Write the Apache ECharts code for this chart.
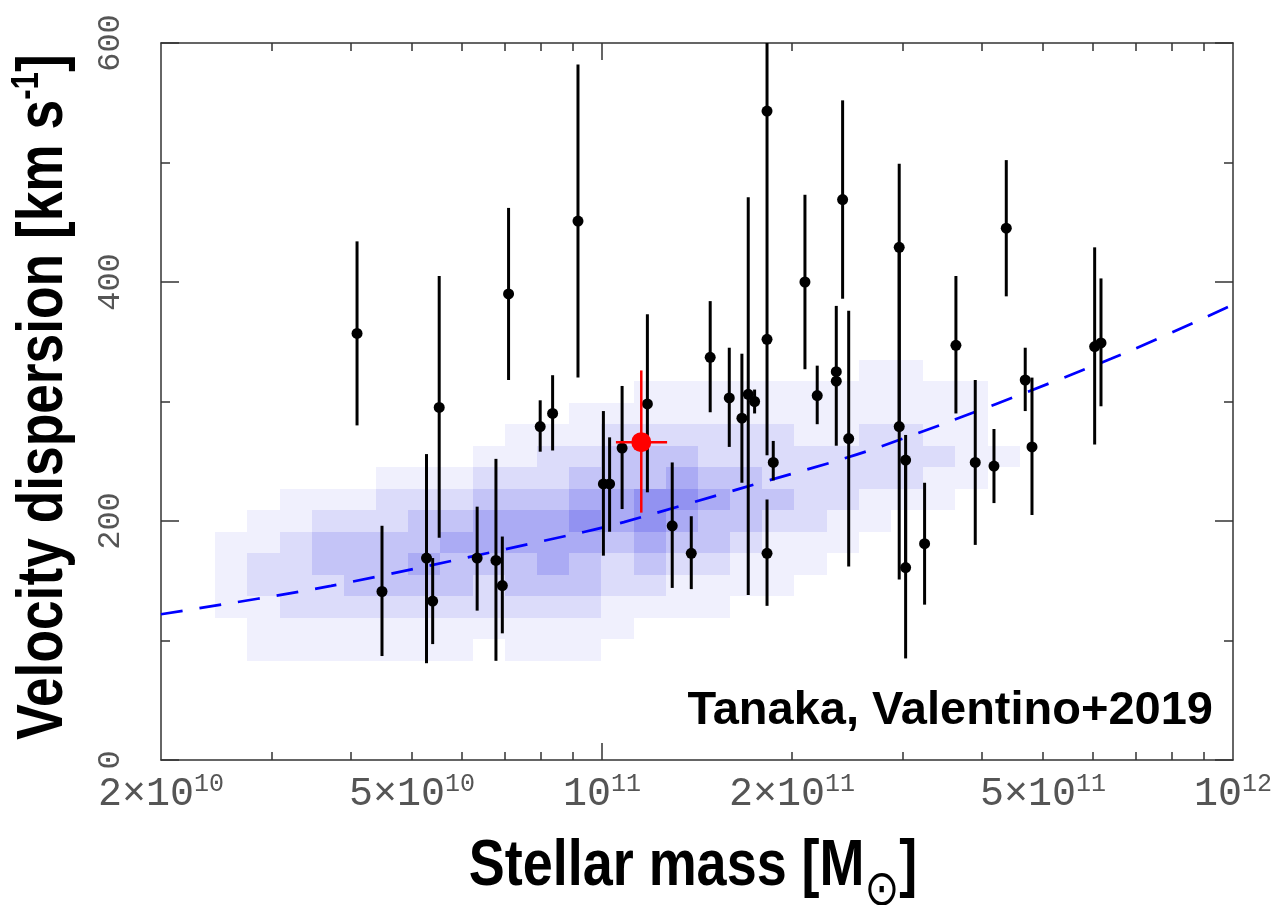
<!DOCTYPE html>
<html><head><meta charset="utf-8">
<script src="https://cdn.jsdelivr.net/npm/echarts@6/dist/echarts.min.js"></script>
<style>html,body{margin:0;padding:0;background:#fff}#chart{width:1285px;height:905px}</style>
</head><body><div id="chart"></div>
<script>
// ---------------- data ----------------
const massBlack = [4.09e10,4.48e10,5.27e10,5.39e10,5.52e10,6.34e10,6.79e10,6.95e10,7.11e10,7.98e10,
  8.35e10,9.16e10,1.005e11,1.028e11,1.076e11,1.180e11,1.292e11,1.385e11,1.484e11,1.591e11,
  1.666e11,1.705e11,1.745e11,1.826e11,1.826e11,1.826e11,1.868e11,2.097e11,2.193e11,2.351e11,
  2.351e11,2.406e11,2.460e11,2.958e11,2.958e11,3.028e11,3.028e11,3.245e11,3.638e11,3.904e11,
  4.180e11,4.372e11,4.685e11,4.802e11,6.036e11,6.177e11];
const sigmaBlack = [357,141,169,133,295,169,167,146,390,279,
  290,451,231,231,261,298,196,173,337,303,
  286,306,300,543,352,173,249,400,305,325,
  317,469,269,429,279,251,161,181,347,249,
  246,445,318,262,346,349];
const sigmaLow = [280,87,81,97,186,125,83,106,318,258,
  259,320,171,191,210,224,144,143,291,262,
  232,138,290,400,255,129,234,327,281,317,
  263,386,162,279,151,161,85,130,290,180,
  215,388,292,205,264,296];
const sigmaHigh = [434,196,256,169,405,212,252,187,462,301,
  322,582,292,270,313,373,249,204,384,345,
  340,471,310,600,400,218,267,473,330,380,
  325,552,376,499,429,272,251,232,405,318,
  277,502,345,320,429,403];

const massRed = [1.154e11];
const sigmaRed = [266];
const sigmaRedLow = [207];
const sigmaRedHigh = [326];
const massRedLow = [1.052e11];
const massRedHigh = [1.268e11];

const fitMass  = [2e10, 3.72e10, 9.36e10, 1.083e11, 1.66e11, 2.748e11, 6.406e11, 1e12];
const fitSigma = [122, 145.7, 190.8, 199.1, 227.3, 261.8, 335.7, 381];

const histMassEdges = [2.438e10,2.742e10,3.083e10,3.467e10,3.899e10,4.385e10,4.932e10,5.546e10,
  6.237e10,7.015e10,7.889e10,8.872e10,9.977e10,1.122e11,1.262e11,1.419e11,1.596e11,1.795e11,
  2.018e11,2.270e11,2.553e11,2.871e11,3.228e11,3.631e11,4.083e11,4.592e11];
const histSigmaEdges = [83,101,119,137,155,173,191,209,227,245,263,281,299,317,335,353];
const histStartRow = [2,0,0,0,0,0,0,0,1,0,0,0,1,2,2,2,3,3,4,5,6,7,7,8,9];
const histLevels = [
  [1,1,1,1],
  [1,1,1,2,2,1,1],
  [1,1,2,2,2,2,1,1],
  [1,1,2,2,3,3,2,1],
  [1,1,2,3,3,3,2,1],
  [1,1,2,3,3,3,2,2,1],
  [1,1,2,3,4,3,3,2,1],
  [1,1,2,3,3,4,3,2,1],
  [1,2,2,3,4,4,3,2,1],
  [1,1,2,3,3,4,4,3,2,1,1],
  [1,1,2,3,4,4,4,3,2,2,1],
  [1,1,2,3,3,4,5,4,3,2,1,1],
  [1,1,2,2,3,4,4,3,3,2,1],
  [1,2,3,4,5,5,3,3,2,1,1],
  [1,1,2,3,4,5,4,3,2,1,1],
  [1,1,2,3,3,4,3,2,2,1,1],
  [1,1,2,3,3,3,2,2,1,1],
  [1,1,1,2,3,2,2,2,1,1],
  [1,1,2,2,2,2,1,1,1],
  [1,1,2,2,2,1,1,1],
  [1,1,2,2,2,1,1,1],
  [1,2,2,2,1,1,1],
  [1,1,2,1,1,1],
  [1,1,1,1,1],
  [1]
];

const xTickValues = [2e10,5e10,1e11,2e11,5e11,1e12];
const xTickBase = ['2×10','5×10','10','2×10','5×10','10'];
const xTickExp  = ['10','10','11','11','11','12'];
const xMinorTicks = [3e10,4e10,5e10,6e10,7e10,8e10,9e10,2e11,3e11,4e11,5e11,6e11,7e11,8e11,9e11];
const xMajorTicks = [1e11];
const yTickValues = [0,200,400,600];
const yMinorTicks = [100,300,500];

const xTitle = 'Stellar mass [M{sun|⊙}]';
const yTitle = 'Velocity dispersion [km s{sup|-1}]';
const annotation = 'Tanaka, Valentino+2019';

// ---------------- build ----------------
const levelOpacity = [0, 0.08, 0.18, 0.3, 0.43, 0.56];
const histData = [];
histLevels.forEach((col, c) => {
  col.forEach((lv, k) => {
    const r = histStartRow[c] + k;
    histData.push([histMassEdges[c], histMassEdges[c+1], histSigmaEdges[r], histSigmaEdges[r+1], lv]);
  });
});
const blackData = massBlack.map((m, i) => [m, sigmaBlack[i], sigmaLow[i], sigmaHigh[i]]);
const redData = massRed.map((m, i) => [m, sigmaRed[i], sigmaRedLow[i], sigmaRedHigh[i], massRedLow[i], massRedHigh[i]]);
const fitData = fitMass.map((m, i) => [m, fitSigma[i]]);

const AX = '#333';
const LBL = '#555';
const tickFont = 'Liberation Mono, DejaVu Sans Mono, monospace';
const titleFont = '"Liberation Sans", Arial, sans-serif';

function xAxisDef(pos, ticks, len, withLine, withLabel) {
  return {
    type: 'log', logBase: 10, min: 2e10, max: 1e12, position: pos, gridIndex: 0,
    axisLine: {show: withLine, onZero: false, lineStyle: {color: AX, width: 1.5}},
    splitLine: {show: false}, minorTick: {show: false}, minorSplitLine: {show: false},
    axisTick: {show: true, inside: true, length: len, customValues: ticks, lineStyle: {color: AX, width: 1.5}},
    axisLabel: withLabel ? {
      show: true, customValues: xTickValues, margin: 12, color: LBL,
      fontFamily: tickFont,
      formatter: function (v) {
        let i = xTickValues.findIndex(t => Math.abs(t - v) / t < 1e-6);
        if (i < 0) return '';
        return '{b|' + xTickBase[i] + '}{e|' + xTickExp[i] + '}';
      },
      rich: {
        b: {fontSize: 40, lineHeight: 44, fontFamily: tickFont, color: LBL},
        e: {fontSize: 25, lineHeight: 16, fontFamily: tickFont, color: LBL, verticalAlign: 'top'}
      }
    } : {show: false}
  };
}
function yAxisDef(pos, ticks, len, withLine, withLabel) {
  return {
    type: 'value', min: 0, max: 600, position: pos, gridIndex: 0,
    axisLine: {show: withLine, onZero: false, lineStyle: {color: AX, width: 1.5}},
    splitLine: {show: false}, minorTick: {show: false},
    axisTick: {show: true, inside: true, length: len, customValues: ticks, lineStyle: {color: AX, width: 1.5}},
    axisLabel: withLabel ? {
      show: true, customValues: yTickValues, rotate: 90, margin: 34,
      fontFamily: tickFont, fontSize: 32, lineHeight: 32, color: LBL
    } : {show: false}
  };
}

const xAxes = [
  xAxisDef('bottom', xMinorTicks, 8, true, true),
  xAxisDef('bottom', xMajorTicks, 17, false, false),
  xAxisDef('top', xMinorTicks, 8, true, false),
  xAxisDef('top', xMajorTicks, 17, false, false)
];
const yAxes = [
  yAxisDef('left', yTickValues, 18, true, true),
  yAxisDef('left', yMinorTicks, 9, false, false),
  yAxisDef('right', yTickValues, 18, true, false),
  yAxisDef('right', yMinorTicks, 9, false, false)
];

const chart = echarts.init(document.getElementById('chart'), null, {renderer: 'canvas'});
chart.setOption({
  animation: false,
  backgroundColor: '#fff',
  grid: {left: 161, right: 52, top: 43, bottom: 145, containLabel: false, outerBoundsMode: 'none'},
  xAxis: xAxes,
  yAxis: yAxes,
  graphic: [
    {
      type: 'text', x: 1213, y: 711, z: 100,
      style: {text: annotation, fontFamily: titleFont, fontWeight: 'bold',
              fontSize: 47, fill: '#000', align: 'right', verticalAlign: 'middle'}
    },
    {
      type: 'text', x: 44, y: 397, rotation: Math.PI / 2, scaleX: 0.82, z: 100,
      style: {text: yTitle, fontFamily: titleFont, fontWeight: 'bold', fontSize: 65, lineHeight: 70,
              fill: '#000', align: 'center', verticalAlign: 'middle',
              rich: {sup: {fontFamily: titleFont, fontWeight: 'bold', fontSize: 38, lineHeight: 38,
                           fill: '#000', verticalAlign: 'top'}}}
    },
    {
      type: 'text', x: 693, y: 867, scaleX: 0.83, z: 100,
      style: {text: xTitle, fontFamily: titleFont, fontWeight: 'bold', fontSize: 65, lineHeight: 100,
              fill: '#000', align: 'center', verticalAlign: 'middle',
              rich: {sun: {fontFamily: 'DejaVu Sans', fontWeight: 'normal', fontSize: 50, lineHeight: 43,
                           fill: '#000', verticalAlign: 'bottom'}}}
    }
  ],
  series: [
    {
      type: 'custom', name: 'density', xAxisIndex: 0, yAxisIndex: 0, z: 1, silent: true,
      data: histData, encode: {x: [0, 1], y: [2, 3]},
      renderItem: function (params, api) {
        const p1 = api.coord([api.value(0), api.value(3)]);
        const p2 = api.coord([api.value(1), api.value(2)]);
        const x1 = Math.round(p1[0]), y1 = Math.round(p1[1]), x2 = Math.round(p2[0]), y2 = Math.round(p2[1]);
        return {type: 'rect', shape: {x: x1, y: y1, width: x2 - x1, height: y2 - y1},
                style: {fill: 'rgba(60,60,230,' + levelOpacity[api.value(4)] + ')'}};
      }
    },
    {
      type: 'line', name: 'fit', xAxisIndex: 0, yAxisIndex: 0, z: 2, data: fitData,
      showSymbol: false, symbol: 'none', smooth: 0.3, silent: true,
      lineStyle: {color: '#0000ff', width: 2.7, type: [22, 17]}
    },
    {
      type: 'custom', name: 'galaxies', xAxisIndex: 0, yAxisIndex: 0, z: 3, clip: true,
      data: blackData, encode: {x: 0, y: [1, 2, 3]},
      renderItem: function (params, api) {
        const p = api.coord([api.value(0), api.value(1)]);
        const lo = api.coord([api.value(0), api.value(2)]);
        const hi = api.coord([api.value(0), api.value(3)]);
        return {type: 'group', children: [
          {type: 'line', shape: {x1: p[0], y1: lo[1], x2: p[0], y2: hi[1]}, style: {stroke: '#000', lineWidth: 3}},
          {type: 'circle', shape: {cx: p[0], cy: p[1], r: 5.5}, style: {fill: '#000'}}
        ]};
      }
    },
    {
      type: 'custom', name: 'this work', xAxisIndex: 0, yAxisIndex: 0, z: 4,
      data: redData, encode: {x: [0, 4, 5], y: [1, 2, 3]},
      renderItem: function (params, api) {
        const p = api.coord([api.value(0), api.value(1)]);
        const lo = api.coord([api.value(0), api.value(2)]);
        const hi = api.coord([api.value(0), api.value(3)]);
        const l = api.coord([api.value(4), api.value(1)]);
        const r = api.coord([api.value(5), api.value(1)]);
        return {type: 'group', children: [
          {type: 'line', shape: {x1: p[0], y1: lo[1], x2: p[0], y2: hi[1]}, style: {stroke: '#ff0000', lineWidth: 2.5}},
          {type: 'line', shape: {x1: l[0], y1: p[1], x2: r[0], y2: p[1]}, style: {stroke: '#ff0000', lineWidth: 2.5}},
          {type: 'circle', shape: {cx: p[0], cy: p[1], r: 10}, style: {fill: '#ff0000'}}
        ]};
      }
    }
  ]
});
</script></body></html>
